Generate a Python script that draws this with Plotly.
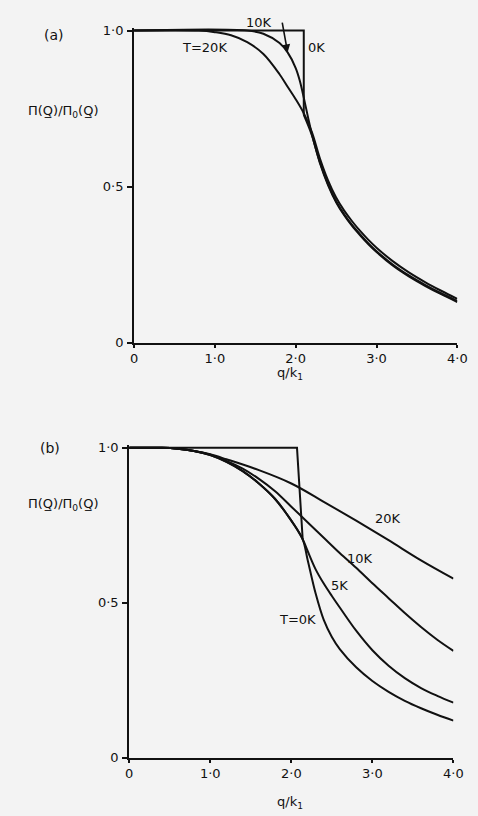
import plotly.graph_objects as go

W, H = 478, 816

# ---- panel (a): normalised response vs q/k1 at T = 0, 10, 20 K ----
a_x_0K_step = [0.0, 2.1, 2.1]
a_y_0K_step = [1.0, 1.0, 0.73]
a_x_0K = [2.1, 2.2, 2.3, 2.4, 2.5, 2.6, 2.7, 2.8, 2.9, 3.0, 3.2, 3.4, 3.6, 3.8, 4.0]
a_y_0K = [0.73, 0.665, 0.575, 0.505, 0.45, 0.408, 0.373, 0.343, 0.315, 0.29, 0.247, 0.212, 0.182, 0.155, 0.13]

a_x_10K = [0.0, 1.4, 1.6, 1.8, 1.9, 2.0, 2.05, 2.1, 2.15, 2.2, 2.3, 2.4, 2.5, 2.6, 2.7, 2.8, 2.9, 3.0, 3.2, 3.4, 3.6, 3.8, 4.0]
a_y_10K = [1.0, 1.0, 0.99, 0.96, 0.93, 0.88, 0.84, 0.785, 0.725, 0.668, 0.578, 0.508, 0.453, 0.411, 0.376, 0.346, 0.318, 0.293, 0.25, 0.215, 0.185, 0.158, 0.133]

a_x_20K = [0.0, 0.8, 1.0, 1.2, 1.4, 1.6, 1.8, 1.9, 2.0, 2.1, 2.2, 2.3, 2.4, 2.5, 2.6, 2.7, 2.8, 2.9, 3.0, 3.2, 3.4, 3.6, 3.8, 4.0]
a_y_20K = [1.0, 1.0, 0.995, 0.985, 0.963, 0.925, 0.86, 0.82, 0.78, 0.735, 0.675, 0.59, 0.52, 0.465, 0.423, 0.388, 0.357, 0.329, 0.304, 0.261, 0.225, 0.194, 0.166, 0.14]

# ---- panel (b): step reference plus T = 0, 5, 10, 20 K ----
b_x_step = [0.0, 2.07, 2.14]
b_y_step = [1.0, 1.0, 0.705]

b_x_0K = [0.0, 0.4, 0.6, 0.8, 1.0, 1.2, 1.4, 1.6, 1.8, 2.0, 2.14, 2.2, 2.3, 2.4, 2.5, 2.6, 2.8, 3.0, 3.2, 3.4, 3.6, 3.8, 4.0]
b_y_0K = [1.0, 1.0, 0.997, 0.99, 0.977, 0.955, 0.925, 0.885, 0.835, 0.765, 0.705, 0.64, 0.53, 0.445, 0.39, 0.35, 0.292, 0.248, 0.213, 0.184, 0.16, 0.139, 0.12]

b_x_5K = [0.0, 0.4, 0.6, 0.8, 1.0, 1.2, 1.4, 1.6, 1.8, 2.0, 2.14, 2.2, 2.3, 2.4, 2.5, 2.6, 2.8, 3.0, 3.2, 3.4, 3.6, 3.8, 4.0]
b_y_5K = [1.0, 1.0, 0.997, 0.99, 0.977, 0.955, 0.925, 0.885, 0.835, 0.765, 0.705, 0.668, 0.608, 0.562, 0.522, 0.484, 0.41, 0.347, 0.297, 0.257, 0.225, 0.2, 0.178]

b_x_10K = [0.0, 0.4, 0.6, 0.8, 1.0, 1.2, 1.4, 1.6, 1.8, 2.0, 2.2, 2.4, 2.6, 2.8, 3.0, 3.2, 3.4, 3.6, 3.8, 4.0]
b_y_10K = [1.0, 1.0, 0.997, 0.99, 0.978, 0.958, 0.933, 0.9, 0.86, 0.81, 0.76, 0.71, 0.66, 0.613, 0.563, 0.515, 0.467, 0.422, 0.381, 0.345]

b_x_20K = [0.0, 0.4, 0.6, 0.8, 1.0, 1.2, 1.6, 2.0, 2.4, 2.8, 3.2, 3.6, 4.0]
b_y_20K = [1.0, 1.0, 0.997, 0.99, 0.979, 0.963, 0.928, 0.885, 0.826, 0.765, 0.702, 0.637, 0.578]

x_tickvals = [0, 1, 2, 3, 4]
x_ticktext = ["0", "1·0", "2·0", "3·0", "4·0"]
y_tickvals = [0, 0.5, 1.0]
y_ticktext = ["0", "0·5", "1·0"]

FONT = "DejaVu Sans"
INK = "#111111"
BG = "#f3f3f3"


def px_x(p):
    return p / W


def px_y(p):
    return 1 - p / H


fig = go.Figure()

smooth = dict(color=INK, width=2, shape="spline", smoothing=1.0)
straight = dict(color=INK, width=2)

for xs, ys, ln in [(a_x_0K_step, a_y_0K_step, straight), (a_x_0K, a_y_0K, smooth),
                   (a_x_10K, a_y_10K, smooth), (a_x_20K, a_y_20K, smooth)]:
    fig.add_trace(go.Scatter(x=xs, y=ys, mode="lines", line=ln, xaxis="x", yaxis="y",
                             showlegend=False, hoverinfo="skip"))

for xs, ys, ln in [(b_x_step, b_y_step, straight), (b_x_0K, b_y_0K, smooth), (b_x_5K, b_y_5K, smooth),
                   (b_x_10K, b_y_10K, smooth), (b_x_20K, b_y_20K, smooth)]:
    fig.add_trace(go.Scatter(x=xs, y=ys, mode="lines", line=ln, xaxis="x2", yaxis="y2",
                             showlegend=False, hoverinfo="skip"))

axis_common = dict(showgrid=False, zeroline=False, showline=True, linecolor=INK, linewidth=2,
                   ticks="outside", tickwidth=2, tickcolor=INK,
                   tickfont=dict(family=FONT, size=13, color=INK), fixedrange=True)

Y_TOP = 1.008
# panel (a): x 134..467 px, y 0 at 343 px, 1.0 at 26 px
a_top = 343 - (343 - 26) * Y_TOP
# panel (b): x 129..463 px, y 0 at 765 px, 1.0 at 450 px
b_top = 765 - (765 - 450) * Y_TOP

xa = dict(tickvals=x_tickvals, ticktext=x_ticktext, ticklen=3, ticklabelstandoff=0, **axis_common)
ya = dict(tickvals=y_tickvals, ticktext=y_ticktext, ticklen=5, ticklabelstandoff=1, **axis_common)

fig.update_layout(
    width=W, height=H,
    margin=dict(l=0, r=0, t=0, b=0),
    paper_bgcolor=BG, plot_bgcolor=BG,
    xaxis=dict(domain=[px_x(134), px_x(467)], range=[0, 4], anchor="y", **xa),
    yaxis=dict(domain=[px_y(343), px_y(a_top)], range=[0, Y_TOP], anchor="x", **ya),
    xaxis2=dict(domain=[px_x(129), px_x(463)], range=[0, 4], anchor="y2", **xa),
    yaxis2=dict(domain=[px_y(765), px_y(b_top)], range=[0, Y_TOP], anchor="x2", **ya),
)


def label(text, x, y, size=13, **kw):
    fig.add_annotation(text=text, x=px_x(x), y=px_y(y), xref="paper", yref="paper",
                       showarrow=False, font=dict(family=FONT, size=size, color=INK),
                       xanchor="center", yanchor="middle", **kw)


ytitle = "Π(Q̲)/Π<sub>0</sub>(Q̲)"
xtitle = "q/k<sub>1</sub>"

# panel (a) text
label("(a)", 51, 30, size=14)
label(ytitle, 61, 108)
label(xtitle, 295, 374)
label("T=20K", 207, 43)
label("10K", 263, 18)
label("0K", 322, 43)
# arrow from the "10K" label down onto its curve
fig.add_annotation(x=1.9, y=0.93, xref="x", yref="y", ax=1.83, ay=1.03,
                   axref="x", ayref="y", text="", showarrow=True,
                   arrowhead=2, arrowsize=1, arrowwidth=1.6, arrowcolor=INK)

# panel (b) text
label("(b)", 47, 450, size=14)
label(ytitle, 61, 508)
label(xtitle, 295, 810)
label("20K", 396, 522)
label("10K", 367, 562)
label("5K", 346, 590)
label("T=0K", 302, 624)

fig.write_html("out.html")
